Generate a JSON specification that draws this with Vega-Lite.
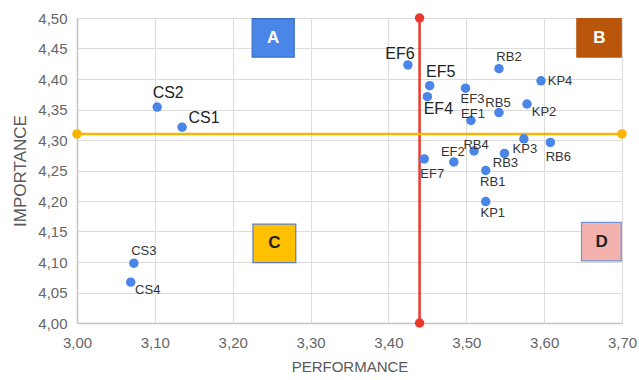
{
  "$schema": "https://vega.github.io/schema/vega-lite/v6.json",
  "width": 545,
  "height": 305,
  "autosize": "none",
  "padding": {"left": 77, "top": 18, "right": 17, "bottom": 57},
  "background": "white",
  "config": {
    "view": {"stroke": null},
    "font": "Liberation Sans",
    "axis": {
      "grid": true,
      "gridColor": "#dcdcdc",
      "gridWidth": 1,
      "domainColor": "#c4c4c4",
      "domainWidth": 1.5,
      "ticks": false,
      "labelFlush": false,
      "labelColor": "#666666",
      "labelFontSize": 15,
      "labelFont": "Liberation Sans",
      "titleColor": "#595959",
      "titleFont": "Liberation Sans",
      "titleFontWeight": "normal"
    }
  },
  "datasets": {
    "pts": [
      {"name": "CS1", "perf": 3.135, "imp": 4.321},
      {"name": "CS2", "perf": 3.103, "imp": 4.354},
      {"name": "CS3", "perf": 3.073, "imp": 4.098},
      {"name": "CS4", "perf": 3.069, "imp": 4.067},
      {"name": "EF1", "perf": 3.506, "imp": 4.332},
      {"name": "EF2", "perf": 3.484, "imp": 4.264},
      {"name": "EF3", "perf": 3.499, "imp": 4.385},
      {"name": "EF4", "perf": 3.450, "imp": 4.371},
      {"name": "EF5", "perf": 3.453, "imp": 4.389},
      {"name": "EF6", "perf": 3.425, "imp": 4.423},
      {"name": "EF7", "perf": 3.446, "imp": 4.269},
      {"name": "RB1", "perf": 3.525, "imp": 4.250},
      {"name": "RB2", "perf": 3.542, "imp": 4.417},
      {"name": "RB3", "perf": 3.549, "imp": 4.278},
      {"name": "RB4", "perf": 3.510, "imp": 4.282},
      {"name": "RB5", "perf": 3.542, "imp": 4.345},
      {"name": "RB6", "perf": 3.608, "imp": 4.296},
      {"name": "KP1", "perf": 3.525, "imp": 4.199},
      {"name": "KP2", "perf": 3.578, "imp": 4.359},
      {"name": "KP3", "perf": 3.574, "imp": 4.302},
      {"name": "KP4", "perf": 3.596, "imp": 4.397}
    ],
    "lines": [
      {"line": "v", "x": 3.44, "y": 4.0},
      {"line": "v", "x": 3.44, "y": 4.5},
      {"line": "h", "x": 3.0, "y": 4.31},
      {"line": "h", "x": 3.7, "y": 4.31}
    ],
    "boxes": [
      {"q": "A", "x1": 3.225, "x2": 3.279, "y1": 4.436, "y2": 4.499, "cx": 3.252, "cy": 4.468},
      {"q": "B", "x1": 3.642, "x2": 3.699, "y1": 4.436, "y2": 4.499, "cx": 3.671, "cy": 4.468},
      {"q": "C", "x1": 3.226, "x2": 3.281, "y1": 4.099, "y2": 4.162, "cx": 3.2535, "cy": 4.1305},
      {"q": "D", "x1": 3.648, "x2": 3.699, "y1": 4.102, "y2": 4.165, "cx": 3.674, "cy": 4.1335}
    ]
  },
  "encoding": {
    "x": {
      "field": "perf", "type": "quantitative",
      "scale": {"domain": [3.0, 3.7], "nice": false, "zero": false},
      "axis": {
        "title": "PERFORMANCE",
        "titleFontSize": 15,
        "titlePadding": 9,
        "labelPadding": 12,
        "values": [3.0, 3.1, 3.2, 3.3, 3.4, 3.5, 3.6, 3.7],
        "labelExpr": "replace(format(datum.value, '.2f'), '.', ',')"
      }
    },
    "y": {
      "field": "imp", "type": "quantitative",
      "scale": {"domain": [4.0, 4.5], "nice": false, "zero": false},
      "axis": {
        "title": "IMPORTANCE",
        "titleFontSize": 17,
        "titlePadding": 8,
        "labelPadding": 10,
        "values": [4.0, 4.05, 4.1, 4.15, 4.2, 4.25, 4.3, 4.35, 4.4, 4.45, 4.5],
        "labelExpr": "replace(format(datum.value, '.2f'), '.', ',')"
      }
    }
  },
  "layer": [
    {
      "data": {"name": "boxes"},
      "mark": {"type": "rect", "strokeWidth": 1.2},
      "encoding": {
        "x": {"field": "x1", "type": "quantitative"},
        "x2": {"field": "x2"},
        "y": {"field": "y1", "type": "quantitative"},
        "y2": {"field": "y2"},
        "fill": {"field": "q", "type": "nominal", "legend": null,
          "scale": {"domain": ["A", "B", "C", "D"], "range": ["#4a86e8", "#b9560c", "#ffc000", "#f4b2ae"]}},
        "stroke": {"field": "q", "type": "nominal", "legend": null,
          "scale": {"domain": ["A", "B", "C", "D"], "range": ["#3a6fc4", "#b9560c", "#5b7cc0", "#6f93d6"]}}
      }
    },
    {
      "data": {"name": "boxes"},
      "mark": {"type": "text", "fontSize": 17, "fontWeight": "bold", "font": "Liberation Sans"},
      "encoding": {
        "x": {"field": "cx", "type": "quantitative"},
        "y": {"field": "cy", "type": "quantitative"},
        "text": {"field": "q"},
        "color": {"condition": {"test": "datum.q === 'A' || datum.q === 'B'", "value": "#ffffff"}, "value": "#222222"}
      }
    },
    {
      "data": {"name": "lines"},
      "mark": {"type": "line", "strokeWidth": 2.5},
      "encoding": {
        "x": {"field": "x", "type": "quantitative"},
        "y": {"field": "y", "type": "quantitative"},
        "detail": {"field": "line"},
        "color": {"field": "line", "type": "nominal", "legend": null,
          "scale": {"domain": ["v", "h"], "range": ["#e8392c", "#f7b500"]}}
      }
    },
    {
      "data": {"name": "lines"},
      "mark": {"type": "point", "filled": true, "size": 90, "opacity": 1},
      "encoding": {
        "x": {"field": "x", "type": "quantitative"},
        "y": {"field": "y", "type": "quantitative"},
        "color": {"field": "line", "type": "nominal", "legend": null,
          "scale": {"domain": ["v", "h"], "range": ["#e8392c", "#f7b500"]}}
      }
    },
    {
      "data": {"name": "pts"},
      "mark": {"type": "point", "filled": true, "size": 90, "opacity": 1, "color": "#4a86e8"},
      "encoding": {}
    },
    {
      "data": {"name": "pts"},
      "transform": [{"filter": {"field": "name", "oneOf": ["CS3", "RB2"]}}],
      "mark": {"type": "text", "fontSize": 13, "color": "#333333", "dx": 10, "dy": -12},
      "encoding": {"text": {"field": "name"}}
    },
    {
      "data": {"name": "pts"},
      "transform": [{"filter": {"field": "name", "oneOf": ["RB5", "EF2"]}}],
      "mark": {"type": "text", "fontSize": 13, "color": "#333333", "dx": -1, "dy": -10},
      "encoding": {"text": {"field": "name"}}
    },
    {
      "data": {"name": "pts"},
      "transform": [{"filter": {"field": "name", "oneOf": ["EF1", "RB4"]}}],
      "mark": {"type": "text", "fontSize": 13, "color": "#333333", "dx": 2, "dy": -6},
      "encoding": {"text": {"field": "name"}}
    },
    {
      "data": {"name": "pts"},
      "transform": [{"filter": {"field": "name", "oneOf": ["RB1", "KP1", "EF3"]}}],
      "mark": {"type": "text", "fontSize": 13, "color": "#333333", "dx": 7, "dy": 11},
      "encoding": {"text": {"field": "name"}}
    },
    {
      "data": {"name": "pts"},
      "transform": [{"filter": {"field": "name", "oneOf": ["RB3", "KP3"]}}],
      "mark": {"type": "text", "fontSize": 13, "color": "#333333", "dx": 1, "dy": 10},
      "encoding": {"text": {"field": "name"}}
    },
    {
      "data": {"name": "pts"},
      "transform": [{"filter": {"field": "name", "oneOf": ["KP2", "CS4"]}}],
      "mark": {"type": "text", "fontSize": 13, "color": "#333333", "dx": 17, "dy": 8},
      "encoding": {"text": {"field": "name"}}
    },
    {
      "data": {"name": "pts"},
      "transform": [{"filter": {"field": "name", "oneOf": ["RB6", "EF7"]}}],
      "mark": {"type": "text", "fontSize": 13, "color": "#333333", "dx": 8, "dy": 15},
      "encoding": {"text": {"field": "name"}}
    },
    {
      "data": {"name": "pts"},
      "transform": [{"filter": {"field": "name", "oneOf": ["KP4"]}}],
      "mark": {"type": "text", "fontSize": 13, "color": "#333333", "dx": 19, "dy": 0},
      "encoding": {"text": {"field": "name"}}
    },
    {
      "data": {"name": "pts"},
      "transform": [{"filter": {"field": "name", "oneOf": ["EF5", "CS2"]}}],
      "mark": {"type": "text", "fontSize": 16, "color": "#222222", "dx": 11, "dy": -14},
      "encoding": {"text": {"field": "name"}}
    },
    {
      "data": {"name": "pts"},
      "transform": [{"filter": {"field": "name", "oneOf": ["CS1"]}}],
      "mark": {"type": "text", "fontSize": 16, "color": "#222222", "dx": 22, "dy": -9},
      "encoding": {"text": {"field": "name"}}
    },
    {
      "data": {"name": "pts"},
      "transform": [{"filter": {"field": "name", "oneOf": ["EF6"]}}],
      "mark": {"type": "text", "fontSize": 16, "color": "#222222", "dx": -8, "dy": -11},
      "encoding": {"text": {"field": "name"}}
    },
    {
      "data": {"name": "pts"},
      "transform": [{"filter": {"field": "name", "oneOf": ["EF4"]}}],
      "mark": {"type": "text", "fontSize": 16, "color": "#222222", "dx": 11, "dy": 12},
      "encoding": {"text": {"field": "name"}}
    }
  ]
}
